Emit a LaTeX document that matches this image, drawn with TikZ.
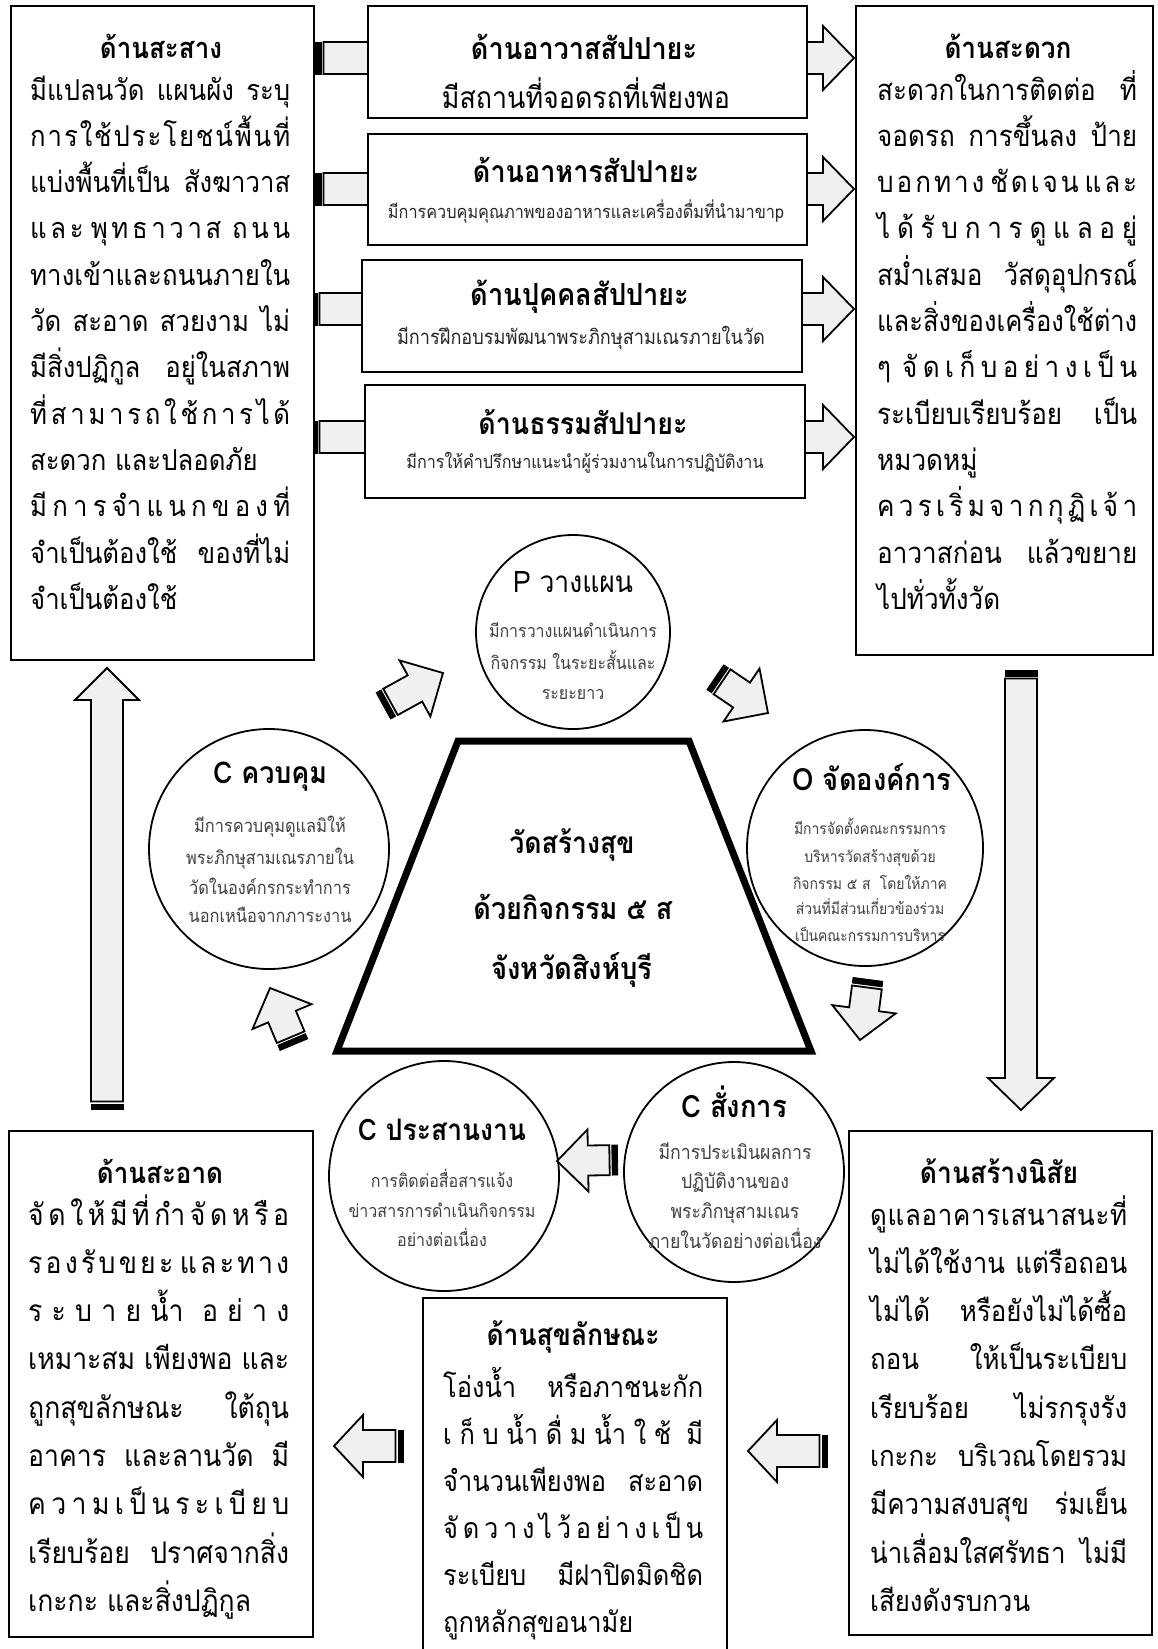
\documentclass[tikz,border=0pt]{standalone}
\usepackage{fontspec}
\usepackage{graphicx}
\setmainfont{Loma}[Script=Thai]
\usetikzlibrary{calc}
\definecolor{agray}{HTML}{F0F0F0}
\definecolor{cgray}{HTML}{404040}
\newlength\tmpw
\newcommand\kk{\hfil}
\newcommand\vs[1]{\scalebox{1}[1.12]{#1}}
% justify a line to width #1 (squeeze horizontally if too long)
\newcommand\fl[2]{\settowidth\tmpw{#2}\ifdim\tmpw>#1\relax\pgfmathsetmacro\fitsc{#1/\tmpw}\vs{\scalebox{\fitsc}[1]{#2}}\else\vs{\makebox[#1][s]{#2}}\fi}
\newcommand\fw[2]{\vs{\resizebox{#1}{!}{#2}}}
% font size such that text #3 gets width #2, stored in \fs<#1>
\newcommand\setfitsize[3]{\settowidth\tmpw{\fontsize{10}{12}\selectfont #3}\pgfmathsetmacro\fitfs{10*#2/\tmpw}\expandafter\xdef\csname fs#1\endcsname{\fitfs}}
% striped block arrow from coordinate #1 to #2; shaft half #3, head half #4, head length #5
\newcommand\barrow[5]{%
  \pgfpointdiff{\pgfpointanchor{#1}{center}}{\pgfpointanchor{#2}{center}}%
  \pgfgetlastxy{\bax}{\bay}%
  \pgfmathsetmacro\balen{veclen(\bax,\bay)}%
  \pgfmathsetmacro\baang{atan2(\bay,\bax)}%
  \begin{scope}[shift={(#1)}, rotate=\baang, x=1pt, y=1pt]
    \filldraw[black, line width=0.8pt] (0.4,-#3) rectangle (6,#3);
    \draw[arr] (8.5,-#3) -- ({\balen-#5},-#3) -- ({\balen-#5},-#4) -- (\balen,0) -- ({\balen-#5},#4) -- ({\balen-#5},#3) -- (8.5,#3) -- cycle;
  \end{scope}}
\begin{document}
\setfitsize{LT}{147}{จำเป็นต้องใช้}%
\setfitsize{RT}{123}{ไปทั่วทั้งวัด}%
\setfitsize{LB}{223}{เกะกะ และสิ่งปฏิกูล}%
\setfitsize{MB}{190}{ถูกหลักสุขอนามัย}%
\setfitsize{RB}{160}{เสียงดังรบกวน}%
\setfitsize{P}{168}{มีการวางแผนดำเนินการ}%
\setfitsize{O}{152}{มีการจัดตั้งคณะกรรมการ}%
\setfitsize{K}{168}{พระภิกษุสามเณรภายใน}%
\setfitsize{R}{187}{ข่าวสารการดำเนินกิจกรรม}%
\setfitsize{S}{153}{มีการประเมินผลการ}%
\begin{tikzpicture}[x=1pt,y=-1pt,
  box/.style={draw, line width=1.6pt, fill=white, inner sep=0pt, anchor=north west},
  circ/.style={draw, circle, line width=1.8pt, fill=white, inner sep=0pt},
  arr/.style={draw=black, fill=agray, line width=1.8pt, line join=miter},
  tt/.style={inner sep=0pt, anchor=center},
  sb/.style={font=\fontsize{#1}{#1}\selectfont, inner sep=0pt, anchor=base west},
  cb/.style={font=\fontsize{#1}{#1}\selectfont, inner sep=0pt, anchor=base, text=cgray},
]
\useasboundingbox[fill=white] (0,0) rectangle (1157,1649);

% ---------- arrow end points ----------
\coordinate (a1s) at (315,58);  \coordinate (a1e) at (854,58);
\coordinate (a2s) at (315,189); \coordinate (a2e) at (854,189);
\coordinate (a3s) at (311,309); \coordinate (a3e) at (854,309);
\coordinate (a4s) at (311,437); \coordinate (a4e) at (854,437);
\coordinate (vrs) at (1021,670); \coordinate (vre) at (1021,1110);
\coordinate (vls) at (107,1110); \coordinate (vle) at (107,668);
\coordinate (brs) at (828,1451); \coordinate (bre) at (748,1451);
\coordinate (bls) at (404,1446); \coordinate (ble) at (334,1446);
\coordinate (cas) at (383,706); \coordinate (cae) at (443,673);
\coordinate (cbs) at (715,677); \coordinate (cbe) at (768,713);
\coordinate (ccs) at (868,979); \coordinate (cce) at (860,1040);
\coordinate (cds) at (618,1160); \coordinate (cde) at (557,1161);
\coordinate (ces) at (294,1045); \coordinate (cee) at (270,988);

% ---------- arrows behind the middle boxes ----------
\barrow{a1s}{a1e}{16}{32}{31}
\barrow{a2s}{a2e}{16}{32}{31}
\barrow{a3s}{a3e}{16}{32}{31}
\barrow{a4s}{a4e}{16}{32}{31}

% ---------- boxes ----------
\node[box, minimum width=303pt, minimum height=654pt] (lt) at (10,5) {};
\node[box, minimum width=297pt, minimum height=649pt] (rt) at (855,5) {};
\node[box, minimum width=439pt, minimum height=112pt] (m1) at (367,5) {};
\node[box, minimum width=439pt, minimum height=111pt] (m2) at (367,133) {};
\node[box, minimum width=440pt, minimum height=112pt] (m3) at (361,259) {};
\node[box, minimum width=440pt, minimum height=113pt] (m4) at (364,384) {};
\node[box, minimum width=304pt, minimum height=506pt] (lb) at (8,1130) {};
\node[box, minimum width=304pt, minimum height=370pt] (mb) at (422,1297) {};
\node[box, minimum width=303pt, minimum height=504pt] (rb) at (848,1130) {};

% ---------- long arrows ----------
\barrow{vrs}{vre}{16}{33}{32}
\barrow{vls}{vle}{16}{32}{32}
\barrow{brs}{bre}{16}{31}{29}
\barrow{bls}{ble}{16}{31}{29}

% ---------- circles and centre ----------
\node[circ, minimum size=194pt] (cP) at (573,632) {};
\node[circ, minimum size=236pt] (cO) at (865,848) {};
\node[circ, minimum size=220pt] (cS) at (734,1172) {};
\node[circ, minimum size=230pt] (cR) at (444,1176) {};
\node[circ, minimum size=240pt] (cK) at (269,849) {};
\coordinate (t1) at (458,741); \coordinate (t2) at (689,741);
\coordinate (t3) at (811,1051); \coordinate (t4) at (337,1051);
\draw[line width=7pt, line join=miter] (t1) -- (t2) -- (t3) -- (t4) -- cycle;

% ---------- cycle arrows ----------
\barrow{cas}{cae}{15}{32}{32}
\barrow{cbs}{cbe}{15}{32}{32}
\barrow{ccs}{cce}{15}{32}{31}
\barrow{cds}{cde}{15}{31}{31}
\barrow{ces}{cee}{15}{32}{31}

% ---------- titles ----------
\node[tt] (ltT) at (161,46) {\fw{122pt}{\bfseries ด้านสะสาง}};
\node[tt] (rtT) at (1008,46) {\fw{127pt}{\bfseries ด้านสะดวก}};
\node[tt] (m1T) at (584,47) {\fw{226pt}{\bfseries ด้านอาวาสสัปปายะ}};
\node[tt] (m1B) at (586,93) {\fw{288pt}{มีสถานที่จอดรถที่เพียงพอ}};
\node[tt] (m2T) at (586,170) {\fw{226pt}{\bfseries ด้านอาหารสัปปายะ}};
\node[tt, text=black!85] (m2B) at (586,212) {\fw{396pt}{มีการควบคุมคุณภาพของอาหารและเครื่องดื่มที่นำมาขาp}};
\node[tt] (m3T) at (580,297) {\fw{219pt}{\bfseries ด้านปุคคลสัปปายะ}};
\node[tt, text=black!85] (m3B) at (581,338) {\fw{368pt}{มีการฝึกอบรมพัฒนาพระภิกษุสามเณรภายในวัด}};
\node[tt] (m4T) at (583,422) {\fw{209pt}{\bfseries ด้านธรรมสัปปายะ}};
\node[tt, text=black!85] (m4B) at (585,463) {\fw{357pt}{มีการให้คำปรึกษาแนะนำผู้ร่วมงานในการปฏิบัติงาน}};
\node[tt] (lbT) at (160,1171) {\fw{126pt}{\bfseries ด้านสะอาด}};
\node[tt] (mbT) at (573,1337) {\fw{173pt}{\bfseries ด้านสุขลักษณะ}};
\node[tt] (rbT) at (999,1171) {\fw{158pt}{\bfseries ด้านสร้างนิสัย}};
\node[tt] (cPT) at (573,582) {\fw{120pt}{P วางแผน}};
\node[tt] (cOT) at (872,777) {\fw{159pt}{\bfseries O จัดองค์การ}};
\node[tt] (cST) at (734,1102) {\fw{106pt}{\bfseries C สั่งการ}};
\node[tt] (cRT) at (442,1130) {\fw{168pt}{\bfseries C ประสานงาน}};
\node[tt] (cKT) at (270,777) {\fw{114pt}{\bfseries C ควบคุม}};
\node[tt] (z1) at (572,845) {\fw{125pt}{\bfseries วัดสร้างสุข}};
\node[tt] (z2) at (573,907) {\fw{199pt}{\bfseries ด้วยกิจกรรม ๕ ส}};
\node[tt] (z3) at (572,970) {\fw{161pt}{\bfseries จังหวัดสิงห์บุรี}};

% ---------- left top box text ----------
\node[sb=\fsLT] (lt1) at (30,100) {\fl{260pt}{มีแปลนวัด แผนผัง ระบุ}};
\node[sb=\fsLT] (lt2) at (30,146.3) {\fl{260pt}{ก\kk า\kk ร\kk ใ\kk ช้\kk ป\kk ร\kk ะ\kk โ\kk ย\kk ช\kk น์\kk พื้\kk น\kk ที่}};
\node[sb=\fsLT] (lt3) at (30,192.6) {\fl{260pt}{แบ่งพื้นที่เป็น สังฆาวาส}};
\node[sb=\fsLT] (lt4) at (30,238.9) {\fl{260pt}{แ\kk ล\kk ะ\kk\kk พุ\kk ท\kk ธ\kk า\kk ว\kk า\kk ส\kk\kk\kk ถ\kk น\kk น}};
\node[sb=\fsLT] (lt5) at (30,285.2) {\fl{260pt}{ท\kk า\kk ง\kk เ\kk ข้\kk า\kk แ\kk ล\kk ะ\kk ถ\kk น\kk น\kk ภ\kk า\kk ย\kk ใ\kk น}};
\node[sb=\fsLT] (lt6) at (30,331.5) {\fl{260pt}{วัด สะอาด สวยงาม ไม่}};
\node[sb=\fsLT] (lt7) at (30,377.8) {\fl{260pt}{มีสิ่งปฏิกูล อยู่ในสภาพ}};
\node[sb=\fsLT] (lt8) at (30,424.1) {\fl{260pt}{ที่\kk ส\kk า\kk ม\kk า\kk ร\kk ถ\kk ใ\kk ช้\kk ก\kk า\kk ร\kk ไ\kk ด้}};
\node[sb=\fsLT] (lt9) at (30,470.4) {\vs{สะดวก และปลอดภัย}};
\node[sb=\fsLT] (lt10) at (30,516.7) {\fl{260pt}{มี\kk ก\kk า\kk ร\kk จำ\kk แ\kk น\kk ก\kk ข\kk อ\kk ง\kk ที่}};
\node[sb=\fsLT] (lt11) at (30,563) {\fl{260pt}{จำเป็นต้องใช้ ของที่ไม่}};
\node[sb=\fsLT] (lt12) at (30,609.3) {\vs{จำเป็นต้องใช้}};

% ---------- right top box text ----------
\node[sb=\fsRT] (rt1) at (877,100) {\fl{260pt}{สะดวกในการติดต่อ ที่}};
\node[sb=\fsRT] (rt2) at (877,146.3) {\fl{260pt}{จอดรถ การขึ้นลง ป้าย}};
\node[sb=\fsRT] (rt3) at (877,192.6) {\fl{260pt}{บ\kk อ\kk ก\kk ท\kk า\kk ง\kk\kk ชั\kk ด\kk เ\kk จ\kk น\kk\kk แ\kk ล\kk ะ}};
\node[sb=\fsRT] (rt4) at (877,238.9) {\fl{260pt}{ไ\kk ด้\kk รั\kk บ\kk ก\kk า\kk ร\kk ดู\kk แ\kk ล\kk อ\kk ยู่}};
\node[sb=\fsRT] (rt5) at (877,285.2) {\fl{260pt}{สม่ำเสมอ  วัสดุอุปกรณ์}};
\node[sb=\fsRT] (rt6) at (877,331.5) {\fl{260pt}{แ\kk ล\kk ะ\kk สิ่\kk ง\kk ข\kk อ\kk ง\kk เ\kk ค\kk รื่\kk อ\kk ง\kk ใ\kk ช้\kk ต่\kk า\kk ง}};
\node[sb=\fsRT] (rt7) at (877,377.8) {\fl{260pt}{ๆ\kk\kk จั\kk ด\kk เ\kk ก็\kk บ\kk อ\kk ย่\kk า\kk ง\kk เ\kk ป็\kk น}};
\node[sb=\fsRT] (rt8) at (877,424.1) {\fl{260pt}{ระเบียบเรียบร้อย เป็น}};
\node[sb=\fsRT] (rt9) at (877,470.4) {\vs{หมวดหมู่}};
\node[sb=\fsRT] (rt10) at (877,516.7) {\fl{260pt}{ค\kk ว\kk ร\kk เ\kk ริ่\kk ม\kk จ\kk า\kk ก\kk กุ\kk ฏิ\kk เ\kk จ้\kk า}};
\node[sb=\fsRT] (rt11) at (877,563) {\fl{260pt}{อาวาสก่อน แล้วขยาย}};
\node[sb=\fsRT] (rt12) at (877,609.3) {\vs{ไปทั่วทั้งวัด}};

% ---------- bottom left box text ----------
\node[sb=\fsLB] (lb1) at (28,1225) {\fl{261pt}{จั\kk ด\kk ใ\kk ห้\kk มี\kk ที่\kk กำ\kk จั\kk ด\kk ห\kk รื\kk อ}};
\node[sb=\fsLB] (lb2) at (28,1273.3) {\fl{261pt}{ร\kk อ\kk ง\kk รั\kk บ\kk ข\kk ย\kk ะ\kk\kk แ\kk ล\kk ะ\kk ท\kk า\kk ง}};
\node[sb=\fsLB] (lb3) at (28,1321.6) {\fl{261pt}{ร\kk ะ\kk บ\kk า\kk ย\kk น้ำ\kk\kk อ\kk ย่\kk า\kk ง}};
\node[sb=\fsLB] (lb4) at (28,1369.9) {\fl{261pt}{เหมาะสม เพียงพอ และ}};
\node[sb=\fsLB] (lb5) at (28,1418.2) {\fl{261pt}{ถูกสุขลักษณะ  ใต้ถุน}};
\node[sb=\fsLB] (lb6) at (28,1466.5) {\fl{261pt}{อาคาร และลานวัด มี}};
\node[sb=\fsLB] (lb7) at (28,1514.8) {\fl{261pt}{ค\kk ว\kk า\kk ม\kk เ\kk ป็\kk น\kk ร\kk ะ\kk เ\kk บี\kk ย\kk บ}};
\node[sb=\fsLB] (lb8) at (28,1563.1) {\fl{261pt}{เรียบร้อย ปราศจากสิ่ง}};
\node[sb=\fsLB] (lb9) at (28,1611.4) {\vs{เกะกะ และสิ่งปฏิกูล}};

% ---------- bottom middle box text ----------
\node[sb=\fsMB] (mb1) at (443,1397) {\fl{260pt}{โอ่งน้ำ หรือภาชนะกัก}};
\node[sb=\fsMB] (mb2) at (443,1444) {\fl{260pt}{เ\kk ก็\kk บ\kk น้ำ\kk ดื่\kk ม\kk น้ำ\kk ใ\kk ช้\kk\kk มี}};
\node[sb=\fsMB] (mb3) at (443,1491) {\fl{260pt}{จำนวนเพียงพอ สะอาด}};
\node[sb=\fsMB] (mb4) at (443,1538) {\fl{260pt}{จั\kk ด\kk ว\kk า\kk ง\kk ไ\kk ว้\kk อ\kk ย่\kk า\kk ง\kk เ\kk ป็\kk น}};
\node[sb=\fsMB] (mb5) at (443,1585) {\fl{260pt}{ระเบียบ มีฝาปิดมิดชิด}};
\node[sb=\fsMB] (mb6) at (443,1632) {\vs{ถูกหลักสุขอนามัย}};

% ---------- bottom right box text ----------
\node[sb=\fsRB] (rb1) at (870,1225) {\fl{257pt}{ดู\kk แ\kk ล\kk อ\kk า\kk ค\kk า\kk ร\kk เ\kk ส\kk น\kk า\kk ส\kk น\kk ะ\kk ที่}};
\node[sb=\fsRB] (rb2) at (870,1273.3) {\fl{257pt}{ไม่ได้ใช้งาน แต่รือถอน}};
\node[sb=\fsRB] (rb3) at (870,1321.6) {\fl{257pt}{ไม่ได้ หรือยังไม่ได้ซื้อ}};
\node[sb=\fsRB] (rb4) at (870,1369.9) {\fl{257pt}{ถอน ให้เป็นระเบียบ}};
\node[sb=\fsRB] (rb5) at (870,1418.2) {\fl{257pt}{เรียบร้อย ไม่รกรุงรัง}};
\node[sb=\fsRB] (rb6) at (870,1466.5) {\fl{257pt}{เกะกะ  บริเวณโดยรวม}};
\node[sb=\fsRB] (rb7) at (870,1514.8) {\fl{257pt}{มีความสงบสุข ร่มเย็น}};
\node[sb=\fsRB] (rb8) at (870,1563.1) {\fl{257pt}{น่าเลื่อมใสศรัทธา ไม่มี}};
\node[sb=\fsRB] (rb9) at (870,1611.4) {\vs{เสียงดังรบกวน}};

% ---------- circle texts ----------
\node[cb=\fsP] (p1) at (573,637) {\vs{มีการวางแผนดำเนินการ}};
\node[cb=\fsP] (p2) at (573,669) {\vs{กิจกรรม ในระยะสั้นและ}};
\node[cb=\fsP] (p3) at (573,699) {\vs{ระยะยาว}};

\node[cb=\fsO] (o1) at (870,834) {\vs{มีการจัดตั้งคณะกรรมการ}};
\node[cb=\fsO] (o2) at (870,862) {\vs{บริหารวัดสร้างสุขด้วย}};
\node[cb=\fsO] (o3) at (870,889) {\vs{กิจกรรม ๕ ส\ \ โดยให้ภาค}};
\node[cb=\fsO] (o4) at (870,914) {\vs{ส่วนที่มีส่วนเกี่ยวข้องร่วม}};
\node[cb=\fsO] (o5) at (870,941) {\vs{เป็นคณะกรรมการบริหาร}};

\node[cb=\fsK] (k1) at (270,832) {\vs{มีการควบคุมดูแลมิให้}};
\node[cb=\fsK] (k2) at (270,864) {\vs{พระภิกษุสามเณรภายใน}};
\node[cb=\fsK] (k3) at (270,894) {\vs{วัดในองค์กรกระทำการ}};
\node[cb=\fsK] (k4) at (270,922) {\vs{นอกเหนือจากภาระงาน}};

\node[cb=\fsR] (r1) at (442,1187) {\vs{การติดต่อสื่อสารแจ้ง}};
\node[cb=\fsR] (r2) at (442,1217) {\vs{ข่าวสารการดำเนินกิจกรรม}};
\node[cb=\fsR] (r3) at (442,1246) {\vs{อย่างต่อเนื่อง}};

\node[cb=\fsS] (s1) at (735,1159) {\vs{มีการประเมินผลการ}};
\node[cb=\fsS] (s2) at (735,1188) {\vs{ปฏิบัติงานของ}};
\node[cb=\fsS] (s3) at (735,1218) {\vs{พระภิกษุสามเณร}};
\node[cb=\fsS] (s4) at (735,1248) {\vs{ภายในวัดอย่างต่อเนื่อง}};
\end{tikzpicture}
\end{document}
